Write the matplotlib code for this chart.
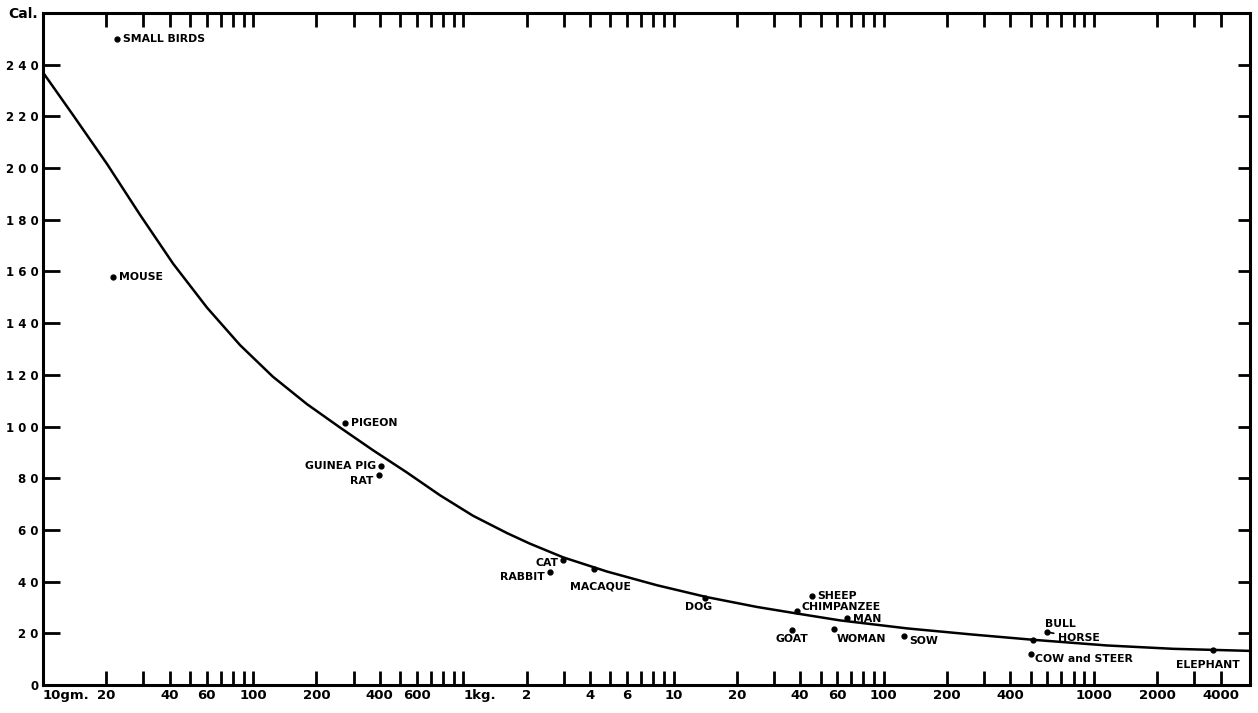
import matplotlib
matplotlib.use("Agg")
import matplotlib.pyplot as plt
from matplotlib.ticker import FixedLocator, FixedFormatter, NullLocator

# Animal points: body weight (grams) and calories per kg per day
animals = ["SMALL BIRDS", "MOUSE", "PIGEON", "GUINEA PIG", "RAT", "CAT", "RABBIT",
           "MACAQUE", "DOG", "SHEEP", "CHIMPANZEE", "MAN", "GOAT", "WOMAN", "SOW",
           "BULL", "HORSE", "COW and STEER", "ELEPHANT"]
mass_g = [22.5, 21.5, 274, 407, 398, 2990, 2570, 4160, 14060, 45400, 38500,
          66700, 36500, 57800, 124500, 512000, 597000, 501000, 3690000]
cal = [250, 158, 101.4, 84.8, 81.3, 48.4, 43.7, 44.9, 33.7, 34.5, 28.6,
       25.9, 21.3, 21.7, 19.0, 17.4, 20.5, 12.0, 13.5]

# hand drawn curve
curve_mass = [10, 13.9, 20.2, 28.9, 41.6, 60.3, 86.6, 124, 180, 259, 372, 539, 774,
              1110, 1610, 2070, 2980, 4820, 8330, 14400, 24900, 37000, 61900,
              129000, 266000, 512000, 1150000, 2380000, 5520000]
curve_cal = [237, 220.5, 201.5, 182, 163, 146, 131.5, 119.3, 108.7, 99.6, 90.8, 82.2,
             73.4, 65.5, 58.8, 54.7, 49.4, 43.9, 38.6, 34.0, 30.2, 27.9, 25.0,
             21.9, 19.5, 17.5, 15.3, 14.0, 13.2]

# axis ticks
x_ticks = [m * 10 ** k for k in range(1, 7) for m in range(1, 10)
           if m * 10 ** k <= 4000000]
x_labels = {10: "10gm.", 20: "20", 40: "40", 60: "60", 100: "100", 200: "200",
            400: "400", 600: "600", 1000: "1kg.", 2000: "2", 4000: "4", 6000: "6",
            10000: "10", 20000: "20", 40000: "40", 60000: "60", 100000: "100",
            200000: "200", 400000: "400", 1000000: "1000", 2000000: "2000",
            4000000: "4000"}
y_ticks = list(range(0, 241, 20))

# label offsets in pixels (dx, dy up) and alignment
label_pos = {
    "SMALL BIRDS": (6, 0, "left"), "MOUSE": (6, 0, "left"), "PIGEON": (6, 0, "left"),
    "GUINEA PIG": (-5, 0, "right"), "RAT": (-6, -6, "right"),
    "CAT": (-5, -3, "right"), "RABBIT": (-5, -5, "right"),
    "MACAQUE": (7, -18, "center"), "DOG": (-6, -9, "center"),
    "SHEEP": (6, 0, "left"), "CHIMPANZEE": (5, 4, "left"), "MAN": (6, -1, "left"),
    "GOAT": (0, -9, "center"), "WOMAN": (3, -10, "left"), "SOW": (5, -5, "left"),
    "BULL": (27, 16, "center"), "HORSE": (11, -6, "left"),
    "COW and STEER": (4, -5, "left"), "ELEPHANT": (-5, -15, "center"),
}

W, H = 1258, 713
fig = plt.figure(figsize=(W / 100, H / 100), dpi=100)
ax = fig.add_axes([43 / W, 1 - 685 / H, (1250 - 43) / W, (685 - 13) / H])
font = ["DejaVu Sans"]

ax.plot(curve_mass, curve_cal, color="black", lw=1.8, solid_joinstyle="round")
ax.plot(mass_g, cal, "o", color="black", ms=3.5, zorder=3)

for name, m, c in zip(animals, mass_g, cal):
    dx, dy, ha = label_pos[name]
    arrow = None
    if name == "HORSE":
        arrow = dict(arrowstyle="-", color="black", lw=1.2, shrinkA=1, shrinkB=2)
    ax.annotate(name, (m, c), xytext=(dx * 0.72, dy * 0.72), textcoords="offset points",
                ha=ha, va="center", fontsize=7.8, fontweight="bold", family=font,
                arrowprops=arrow)

ax.set_xscale("log")
ax.set_xlim(10, 5520000)
ax.set_ylim(0, 260)
ax.xaxis.set_major_locator(FixedLocator(x_ticks))
ax.xaxis.set_major_formatter(FixedFormatter([x_labels.get(t, "") for t in x_ticks]))
ax.xaxis.set_minor_locator(NullLocator())
ax.set_yticks(y_ticks)
ax.set_yticklabels([" ".join(str(v)) for v in y_ticks])

ax.tick_params(axis="x", which="both", direction="in", top=True, bottom=True,
               length=10, width=2, pad=3)
ax.tick_params(axis="y", direction="in", left=True, right=True, length=12,
               width=2, pad=3)
for t in ax.yaxis.get_major_ticks():
    t.tick2line.set_markersize(8.5)
for lab in ax.get_xticklabels():
    lab.set_fontweight("bold")
    lab.set_family(font)
    lab.set_fontsize(9.5)
    if lab.get_text() in ("10gm.", "1kg."):
        lab.set_ha("left")
for lab in ax.get_yticklabels():
    lab.set_fontweight("bold")
    lab.set_family(font)
    lab.set_fontsize(8.5)

for s in ax.spines.values():
    s.set_linewidth(2.2)

fig.text(8 / W, 1 - 14 / H, "Cal.", fontsize=10, fontweight="bold", family=font,
         ha="left", va="center")

fig.savefig("out.png", dpi=100)
